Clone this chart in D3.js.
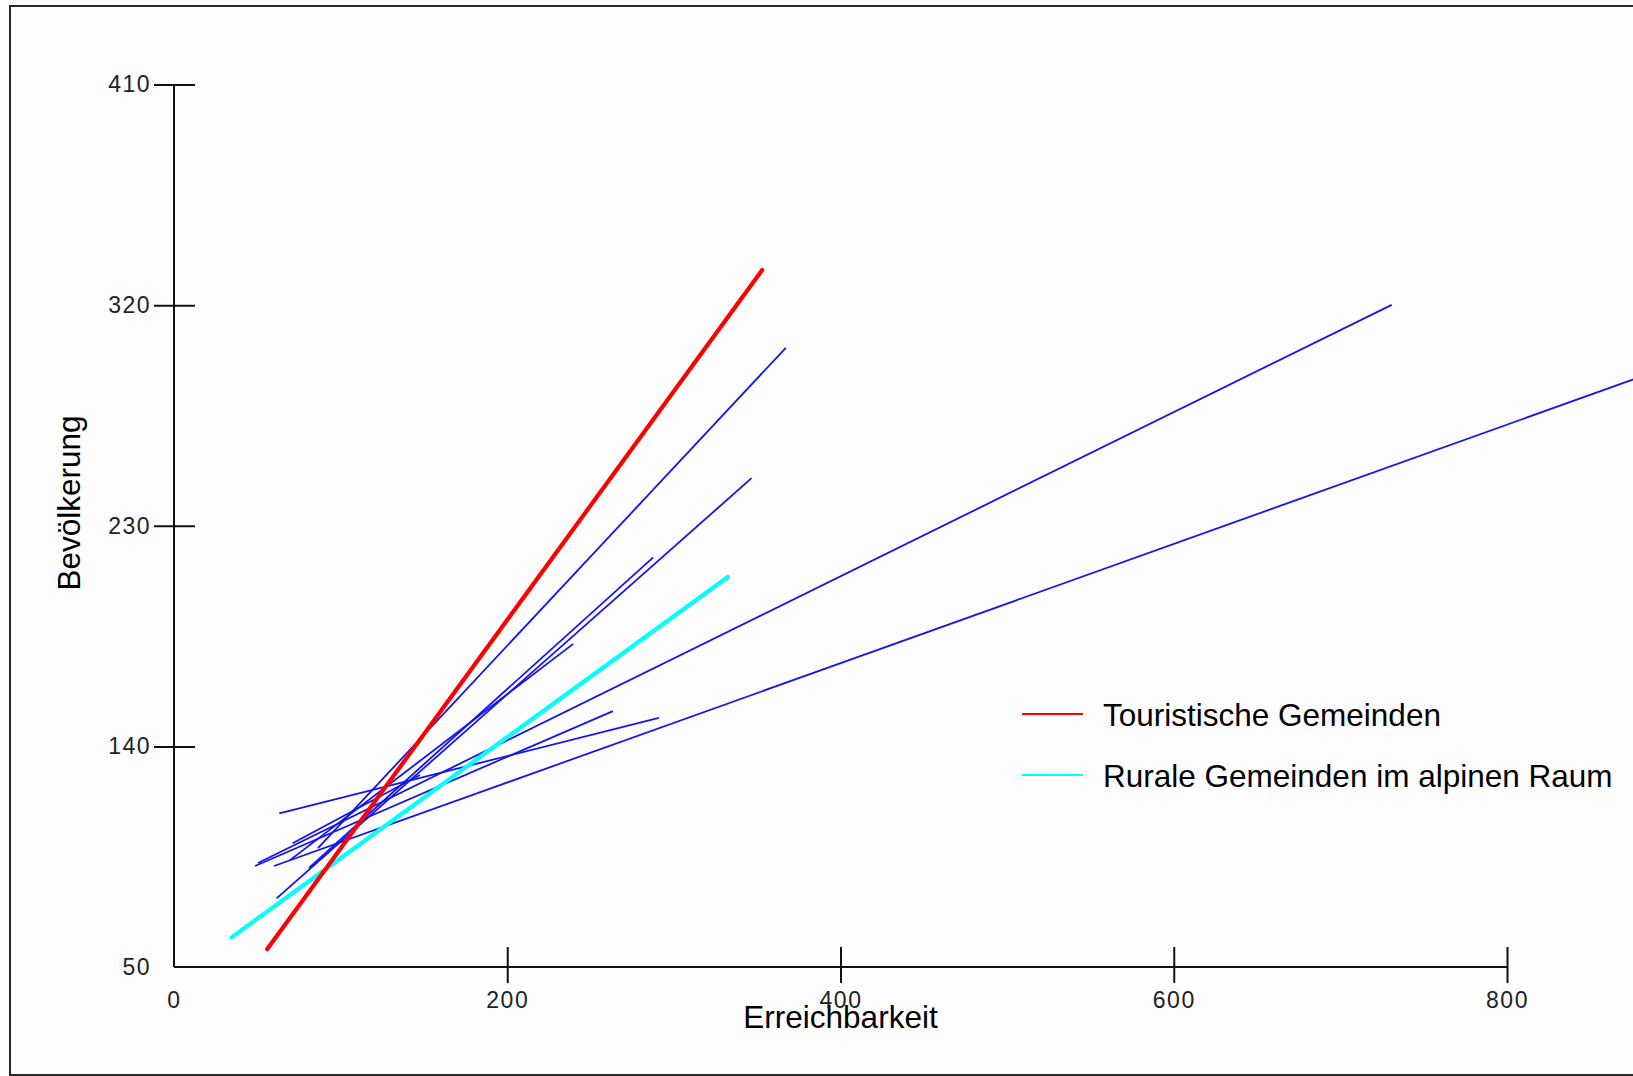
<!DOCTYPE html>
<html>
<head>
<meta charset="utf-8">
<script src="https://cdn.jsdelivr.net/npm/d3@7"></script>
<style>
  html, body { margin: 0; padding: 0; background: #fff; overflow: hidden; }
  svg { display: block; font-family: "Liberation Sans", Arial, sans-serif; }
</style>
</head>
<body>
<div class="chart"></div>
<script>
// axis ticks
const xTicks = [0, 200, 400, 600, 800];
const yTicks = [50, 140, 230, 320, 410];

// legend series
const seriesNames = ["Touristische Gemeinden", "Rurale Gemeinden im alpinen Raum"];
const seriesColors = ["#ff0000", "#00ffff"];

// group regression lines: [start, end] as [Erreichbarkeit, Bevölkerung]
const touristLine = [[56, 57.3], [353, 334.3]];
const ruralLine = [[34.6, 62.1], [332.4, 209.1]];

// single municipality lines (blue)
const blueStartX = [86.4, 61.6, 81.0, 69.6, 48.6, 63.2, 50.4, 60.0, 71.2];
const blueStartY = [98.5, 78.0, 90.4, 93.6, 91.2, 112.7, 92.4, 91.2, 100.5];
const blueEndX   = [367.2, 346.6, 287.6, 239.6, 263.4, 291.0, 730.8, 880.0, 147.6];
const blueEndY   = [302.6, 249.4, 217.1, 181.8, 154.4, 151.6, 320.1, 290.7, 128.3];

const W = 1633, H = 1076;
const x0 = 174, x1 = 1507, yTop = 84.5, yBot = 967;

const svg = d3.select(".chart")
    .append("svg")
    .attr("width", W)
    .attr("height", H);

svg.append("rect")
    .attr("width", W).attr("height", H)
    .attr("fill", "#fdfdfd");

// outer frame
svg.append("rect")
    .attr("x", 10).attr("y", 6)
    .attr("width", W + 20).attr("height", H - 7)
    .attr("fill", "none")
    .attr("stroke", "#2a2a2a")
    .attr("stroke-width", 2);

const xScale = d3.scaleLinear()
    .domain([0, 800])
    .range([x0, x1]);

const yScale = d3.scaleLinear()
    .domain([50, 410])
    .range([yBot, yTop]);

const xAxis = d3.axisBottom(xScale)
    .tickValues(xTicks)
    .tickFormat(d3.format("d"))
    .tickSize(16)
    .tickPadding(9);

const yAxis = d3.axisLeft(yScale)
    .tickValues(yTicks)
    .tickFormat(d3.format("d"))
    .tickSize(20)
    .tickPadding(3);

const xAxisGroup = svg.append("g")
    .attr("class", "axis x-axis")
    .attr("transform", `translate(0, ${yBot})`)
    .call(xAxis);

xAxisGroup.select(".domain").attr("d", `M${x0},0H${x1}`);
xAxisGroup.selectAll(".tick line")
    .attr("y1", -20)
    .attr("y2", 16)
    .filter(d => d === 0).remove();

const yAxisGroup = svg.append("g")
    .attr("class", "axis y-axis")
    .attr("transform", `translate(${x0}, 0)`)
    .call(yAxis);

yAxisGroup.select(".domain").attr("d", `M0,${yTop}V${yBot}`);
yAxisGroup.selectAll(".tick line")
    .attr("x1", -20)
    .attr("x2", 21)
    .filter(d => d === 50).remove();

svg.selectAll(".axis .domain, .axis .tick line")
    .attr("stroke", "#111")
    .attr("stroke-width", 2);

svg.selectAll(".axis .tick text")
    .attr("font-size", 23)
    .attr("letter-spacing", 1.5)
    .attr("fill", "#222");

// axis titles
svg.append("text")
    .attr("x", xScale(400))
    .attr("y", 1028)
    .attr("text-anchor", "middle")
    .attr("font-size", 31.5)
    .attr("fill", "#000")
    .text("Erreichbarkeit");

svg.append("text")
    .attr("transform", "translate(80, 503) rotate(-90)")
    .attr("text-anchor", "middle")
    .attr("font-size", 31.5)
    .attr("fill", "#000")
    .text("Bevölkerung");

const line = d3.line()
    .x(d => xScale(d[0]))
    .y(d => yScale(d[1]));

// blue municipality lines
const blueLines = blueStartX.map((sx, i) => [[sx, blueStartY[i]], [blueEndX[i], blueEndY[i]]]);

svg.append("g")
    .selectAll("path")
    .data(blueLines)
    .join("path")
    .attr("d", line)
    .attr("fill", "none")
    .attr("stroke", "#1414f0")
    .attr("stroke-width", 1.8);

// group lines
svg.append("path")
    .datum(ruralLine)
    .attr("d", line)
    .attr("fill", "none")
    .attr("stroke", seriesColors[1])
    .attr("stroke-width", 4.2)
    .attr("stroke-linecap", "round");

svg.append("path")
    .datum(touristLine)
    .attr("d", line)
    .attr("fill", "none")
    .attr("stroke", seriesColors[0])
    .attr("stroke-width", 4.2)
    .attr("stroke-linecap", "round");

// legend
const legend = svg.append("g")
    .attr("transform", "translate(1022, 714)");

const items = legend.selectAll("g")
    .data(seriesNames)
    .join("g")
    .attr("transform", (d, i) => `translate(0, ${i * 61})`);

items.append("line")
    .attr("x1", 0).attr("x2", 61)
    .attr("stroke", (d, i) => seriesColors[i])
    .attr("stroke-width", 2);

items.append("text")
    .attr("x", 81)
    .attr("y", 12)
    .attr("font-size", 31.5)
    .attr("fill", "#000")
    .text(d => d);
</script>
</body>
</html>
